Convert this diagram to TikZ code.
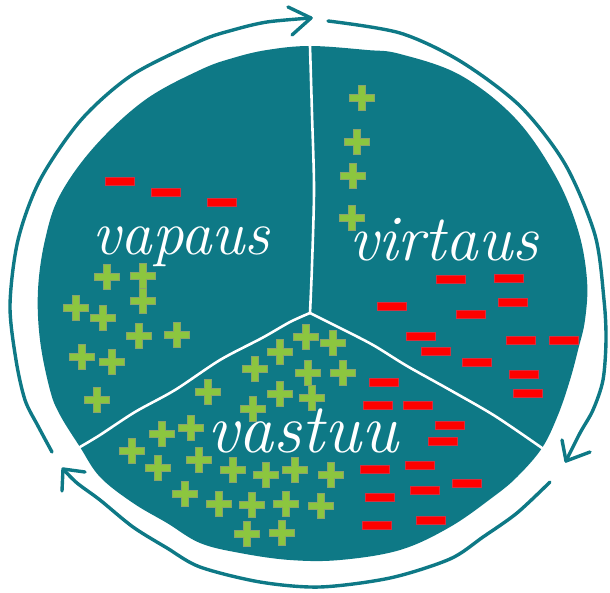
\documentclass[tikz,border=0pt]{standalone}
\usepackage{fontspec}
\definecolor{teal1}{HTML}{0E7986}
\definecolor{plusgreen}{HTML}{8CC63F}
\definecolor{minusred}{HTML}{FF0000}
\definecolor{edgepurple}{HTML}{8A7AA6}
\tikzset{
  ringline/.style={draw=teal1, line width=3.4pt, line cap=round, line join=round},
  divider/.style={draw=white, line width=2.6pt, line cap=round},
  label/.style={text=white, inner sep=0pt, anchor=base west},
  pics/plussign/.style={code={
    \path[fill=plusgreen, draw=plusgreen!55!edgepurple, line width=0.45pt]
      (-3.6,-12.5) -- (3.6,-12.5) -- (3.6,-3.6) -- (12.5,-3.6) -- (12.5,3.6) -- (3.6,3.6)
      -- (3.6,12.5) -- (-3.6,12.5) -- (-3.6,3.6) -- (-12.5,3.6) -- (-12.5,-3.6) -- (-3.6,-3.6) -- cycle;}},
  pics/minussign/.style={code={
    \path[fill=minusred, draw=minusred!60!edgepurple, line width=0.4pt] (-14.5,-4) rectangle (14.5,4);}}
}
\begin{document}
\begin{tikzpicture}[x=1pt,y=-1pt]
\useasboundingbox (0,0) rectangle (610,593);
% disc
\path[fill=teal1] plot[smooth cycle, tension=0.6] coordinates {
 (310,46) (367,50) (400,54) (460,75) (515,118) (555,175) (578,230) (587,280) (585,320)
 (578,350) (570,380) (558,415) (542,448) (517,477) (493,497) (450,527) (400,550) (340,560)
 (290,560) (240,553) (200,543) (167,523) (133,503) (100,477) (80,447) (60,415) (50,390)
 (40,340) (38,290) (45,240) (60,195) (95,146) (145,100) (200,70) (233,58) (267,50)};
% centre and divider ends
\coordinate (c) at (310,313);
\coordinate (top) at (310,46);
\coordinate (lft) at (80,447);
\coordinate (rgt) at (542,448);
\draw[divider] plot[smooth] coordinates {(top) (312,114) (314,189) (312,265) (c)};
\draw[divider] plot[smooth] coordinates {(c) (290,322) (262,338) (220,360) (175,390) (135,412) (100,435) (lft)};
\draw[divider] plot[smooth] coordinates {(c) (340,328) (373,345) (407,366) (450,390) (495,416) (rgt)};
% ring arrows
\coordinate (tipA) at (311,18);
\coordinate (tipB) at (566,461);
\coordinate (tipC) at (63,469);
\draw[ringline] plot[smooth] coordinates {(52,452) (38,426) (25,400) (16,360) (10,305) (18,240) (40,180) (81,120) (132,75) (200,41) (233,30) (267,22) (tipA)};
\draw[ringline] (288,7) -- (tipA) -- (292,35);
\draw[ringline] plot[smooth] coordinates {(328,21) (400,33) (460,61) (520,106) (565,164) (595,235) (604,300) (606,340) (603,380) (593,410) (580,433) (tipB)};
\draw[ringline] (562,440) -- (tipB) -- (590,452);
\draw[ringline] plot[smooth] coordinates {(550,482) (517,513) (483,537) (450,559) (390,578) (320,587) (260,582) (200,567) (167,548) (133,527) (100,500) (77,483) (tipC)};
\draw[ringline] (62,491) -- (tipC) -- (85,472);
% labels
\node[label, font=\fontsize{63}{63}\selectfont\itshape] (vapaus) at (92,255) {vapaus};
\node[label, font=\fontsize{65}{65}\selectfont\itshape] (virtaus) at (349,261) {virtaus};
\node[label, font=\fontsize{70}{70}\selectfont\itshape] (vastuu) at (207,452) {vastuu};
% pluses
\foreach \p in {(107,277),(143,276),(143,301),(76,308),(103,318),(139,336),(177,335),(82,357),(112,362),(97,400),
  (362,98),(357,142),(353,176),(352,218),
  (306,337),(333,343),(280,352),(255,369),(308,373),(343,373),(208,392),(280,394),(312,398),(253,409),
  (191,428),(162,434),(132,451),(158,468),(199,460),(233,470),(266,475),(295,470),(331,475),
  (185,494),(219,504),(252,505),(286,504),(321,506),(247,534),(282,533)}
  \pic at \p {plussign};
% minuses
\foreach \p in {(120,181),(166,192),(222,202),
  (451,279),(509,278),(392,306),(513,302),(471,314),(421,336),(521,340),(564,340),(436,351),(477,362),(524,374),(528,393),
  (384,382),(378,405),(418,405),(450,425),(443,441),(375,469),(420,465),(467,483),(425,490),(380,497),(431,520),(377,525)}
  \pic at \p {minussign};
\end{tikzpicture}
\end{document}
